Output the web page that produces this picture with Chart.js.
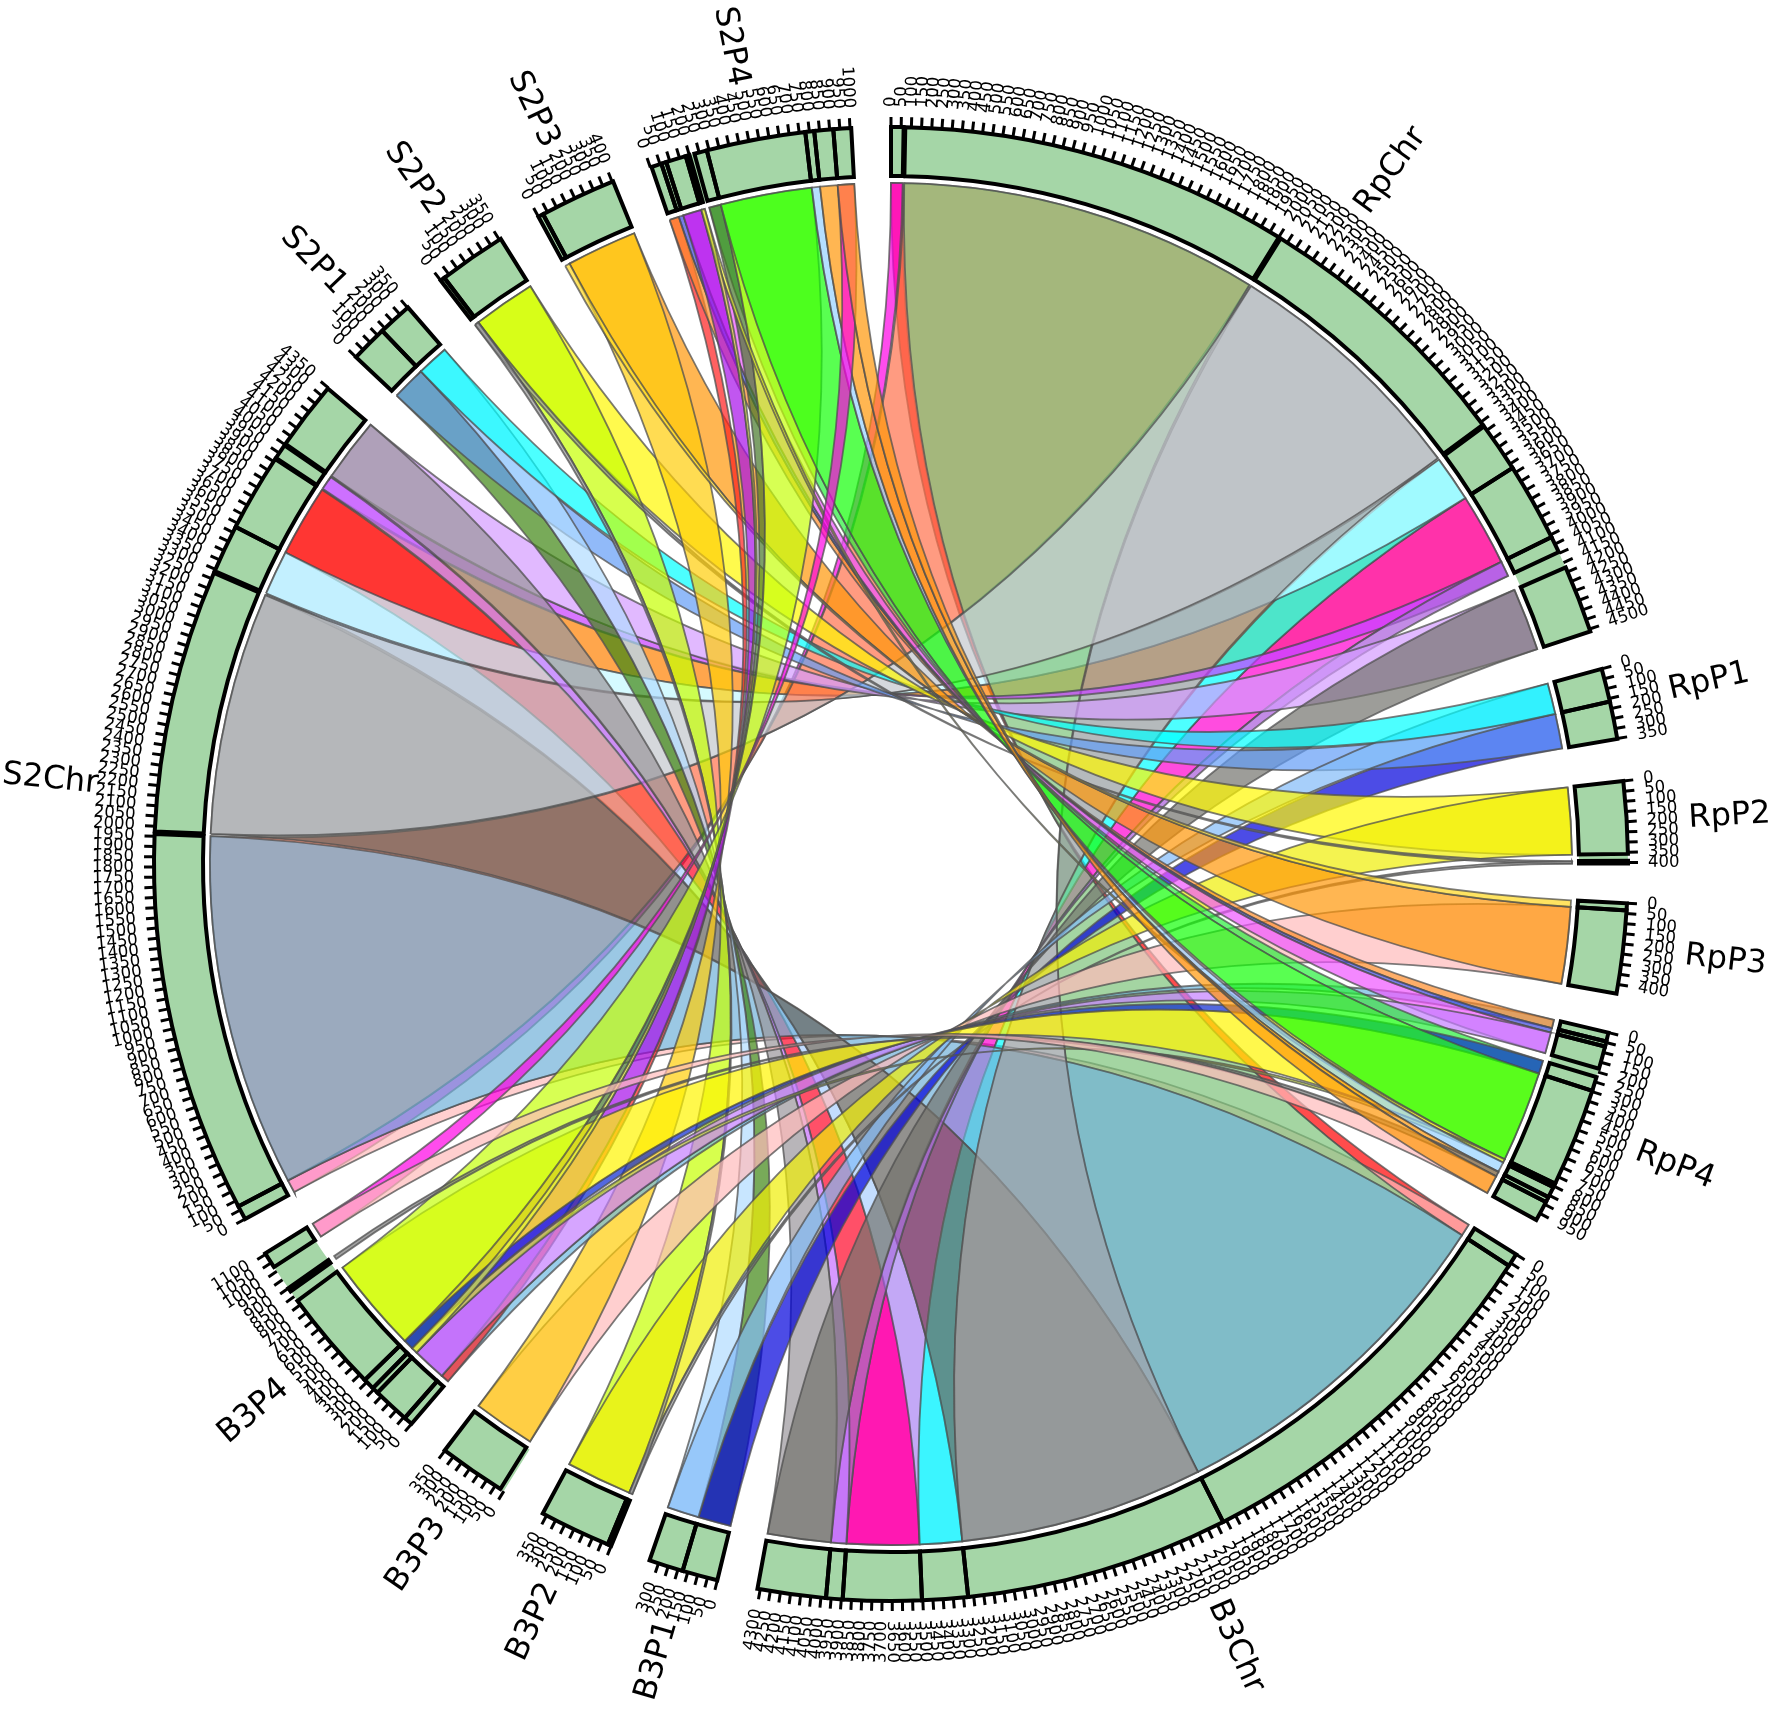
<!DOCTYPE html>
<html>
<head>
<meta charset="utf-8">
<title>Chord diagram</title>
<script src="https://cdn.jsdelivr.net/npm/chart.js@4"></script>
<style>
    html, body { margin: 0; padding: 0; background: #fff; }
    canvas { display: block; }
</style>
</head>
<body>
<canvas id="chord" width="1772" height="1713"></canvas>
<script>
// -----------------------------
// Data
// -----------------------------
const sectorNames = ['RpChr', 'RpP1', 'RpP2', 'RpP3', 'RpP4', 'B3Chr', 'B3P1', 'B3P2', 'B3P3', 'B3P4', 'S2Chr', 'S2P1', 'S2P2', 'S2P3', 'S2P4'];
const sectorLengths = [4512, 352, 405, 446, 987, 4314, 346, 371, 352, 1105, 4352, 352, 358, 405, 1006];
const sectorGaps = [192, 208, 195, 195, 195, 201, 201, 220, 208, 195, 201, 208, 214, 195, 195];
const lastTick = [4500, 350, 400, 400, 950, 4300, 300, 350, 350, 1100, 4350, 350, 350, 400, 1000];
const tickStep = 50;

// every link: sector, from, to, sector, from, to
const linkEnds = [
    // chromosomes
    ['RpChr', 0, 62, 'B3Chr', 0, 66],
    ['S2Chr', 0, 70, 'RpChr', 0, 62],
    ['S2Chr', 0, 70, 'B3Chr', 0, 66],
    ['S2Chr', 3530, 3915, 'RpChr', 3623, 4012],
    ['S2Chr', 3530, 3915, 'B3Chr', 3504, 3893],
    ['RpChr', 3623, 4012, 'B3Chr', 3504, 3893],
    ['S2Chr', 3290, 3530, 'B3Chr', 3277, 3504],
    ['RpChr', 3376, 3623, 'B3Chr', 3277, 3504],
    ['S2Chr', 3290, 3530, 'RpChr', 3376, 3623],
    ['S2Chr', 70, 1962, 'RpChr', 70, 2001],
    ['RpChr', 70, 2001, 'B3Chr', 66, 1968],
    ['S2Chr', 70, 1962, 'B3Chr', 66, 1968],
    ['S2Chr', 1974, 3280, 'B3Chr', 1968, 3277],
    ['RpChr', 2011, 3366, 'B3Chr', 1968, 3277],
    ['S2Chr', 1974, 3280, 'RpChr', 2011, 3366],
    ['S2Chr', 3921, 3996, 'RpChr', 4012, 4094],
    ['RpChr', 4012, 4094, 'B3Chr', 3893, 3975],
    ['S2Chr', 3921, 3996, 'B3Chr', 3893, 3975],
    ['S2Chr', 4004, 4346, 'RpChr', 4176, 4512],
    ['S2Chr', 4004, 4346, 'B3Chr', 3975, 4314],
    ['RpChr', 4176, 4512, 'B3Chr', 3975, 4314],
    // P1
    ['S2P1', 0, 182, 'B3P1', 0, 176],
    ['RpP1', 165, 352, 'B3P1', 0, 176],
    ['S2P1', 0, 182, 'RpP1', 165, 352],
    ['S2P1', 182, 352, 'B3P1', 176, 346],
    ['RpP1', 0, 165, 'B3P1', 176, 346],
    ['S2P1', 182, 352, 'RpP1', 0, 165],
    // P2
    ['S2P2', 22, 358, 'RpP2', 0, 358],
    ['S2P2', 22, 358, 'B3P2', 18, 371],
    ['RpP2', 0, 358, 'B3P2', 18, 371],
    ['S2P2', 0, 22, 'RpP2', 392, 405],
    ['RpP2', 392, 405, 'B3P2', 0, 18],
    ['S2P2', 0, 22, 'B3P2', 0, 18],
    // P3
    ['RpP3', 35, 446, 'B3P3', 20, 352],
    ['S2P3', 26, 405, 'RpP3', 35, 446],
    ['S2P3', 26, 405, 'B3P3', 20, 352],
    ['S2P3', 0, 26, 'RpP3', 0, 35],
    // P4
    ['RpP4', 0, 45, 'B3P4', 0, 44],
    ['S2P4', 6, 57, 'B3P4', 0, 44],
    ['S2P4', 6, 57, 'RpP4', 0, 45],
    ['S2P4', 57, 82, 'RpP4', 45, 70],
    ['S2P4', 82, 182, 'RpP4', 70, 183],
    ['S2P4', 82, 182, 'B3P4', 44, 226],
    ['RpP4', 70, 183, 'B3P4', 44, 226],
    ['S2P4', 226, 289, 'RpP4', 226, 296],
    ['S2P4', 226, 289, 'B3P4', 258, 314],
    ['RpP4', 226, 296, 'B3P4', 258, 314],
    ['RpP4', 296, 786, 'B3P4', 314, 824],
    ['S2P4', 289, 780, 'B3P4', 314, 824],
    ['S2P4', 289, 780, 'RpP4', 296, 786],
    ['S2P4', 182, 201, 'RpP4', 786, 805],
    ['RpP4', 786, 805, 'B3P4', 226, 258],
    ['S2P4', 182, 201, 'B3P4', 226, 258],
    ['S2P4', 780, 824, 'RpP4', 805, 860],
    ['S2P4', 824, 918, 'RpP4', 860, 887],
    ['RpP4', 860, 887, 'B3P4', 881, 900],
    ['S2P4', 918, 1006, 'B3P4', 1025, 1105],
    ['RpP4', 887, 987, 'B3P4', 1025, 1105],
    ['S2P4', 918, 1006, 'RpP4', 887, 987]
];

// -----------------------------
// Styles
// -----------------------------
const linkColors = [
    '255,0,0', '255,0,230', '255,186,186',
    '255,128,0', '255,5,40', '255,0,210',
    '169,206,255', '2,255,255', '195,248,255',
    '255,112,76', '126,195,123', '112,176,216',
    '100,98,94', '150,157,159', '195,200,205',
    '200,60,255', '170,90,220', '200,110,255',
    '212,155,255', '154,149,155', '115,115,110',
    '62,134,19', '0,0,220', '99,156,247',
    '176,219,255', '129,187,248', '0,255,255',
    '255,248,2', '198,255,2', '240,238,5',
    '150,150,150', '150,150,150', '150,150,150',
    '255,186,186', '255,151,8', '255,205,8',
    '255,215,30',
    '110,185,225', '255,30,30', '255,140,40',
    '60,70,220',
    '239,85,255', '166,14,234', '196,127,255',
    '40,240,60', '70,120,40', '10,40,210',
    '255,245,0', '198,255,10', '18,255,7',
    '235,240,40', '200,225,50', '220,230,50',
    '150,210,255', '255,151,8', '120,120,120',
    '255,0,230', '255,186,186', '255,151,8'
];
const linkAlpha = 0.7;
const ringColor = '#a5d6a7';
const nameRadius = [855, 838, 840, 840, 840, 855, 830, 838, 838, 840, 845, 835, 835, 835, 833];

const sectorIndex = name => sectorNames.indexOf(name);

// -----------------------------
// Chord plugin: links, block outlines, ticks and labels
// -----------------------------
const chordPlugin = {
    id: 'chord',
    afterDatasetsDraw(chart) {
        const ctx = chart.ctx;
        const arcs = chart.getDatasetMeta(0).data;
        const cx = arcs[0].x, cy = arcs[0].y;
        const outerR = arcs[0].outerRadius, innerR = arcs[0].innerRadius;
        const linkR = innerR - 7;

        function angleAt(sector, value) {
            const arc = arcs[sector * 2];
            return arc.startAngle + (arc.endAngle - arc.startAngle) * value / sectorLengths[sector];
        }

        // links
        linkEnds.forEach((link, i) => {
            const s1 = sectorIndex(link[0]), s2 = sectorIndex(link[3]);
            const a0 = angleAt(s1, link[1]), a1 = angleAt(s1, link[2]);
            const b0 = angleAt(s2, link[4]), b1 = angleAt(s2, link[5]);
            ctx.beginPath();
            ctx.arc(cx, cy, linkR, a0, a1);
            ctx.quadraticCurveTo(cx, cy, cx + linkR * Math.cos(b1), cy + linkR * Math.sin(b1));
            ctx.arc(cx, cy, linkR, b1, b0, true);
            ctx.quadraticCurveTo(cx, cy, cx + linkR * Math.cos(a0), cy + linkR * Math.sin(a0));
            ctx.closePath();
            ctx.fillStyle = `rgba(${linkColors[i]},${linkAlpha})`;
            ctx.fill();
            ctx.strokeStyle = 'rgba(80,80,80,0.75)';
            ctx.lineWidth = 1.8;
            ctx.stroke();
        });

        // block outlines
        ctx.strokeStyle = '#000';
        ctx.lineWidth = 4;
        ctx.lineJoin = 'miter';
        const done = new Set();
        function outline(sector, from, to) {
            const key = `${sector}:${from}:${to}`;
            if (done.has(key)) return;
            done.add(key);
            const a0 = angleAt(sector, from), a1 = angleAt(sector, to);
            ctx.beginPath();
            ctx.arc(cx, cy, outerR, a0, a1);
            ctx.arc(cx, cy, innerR, a1, a0, true);
            ctx.closePath();
            ctx.stroke();
        }
        linkEnds.forEach(link => {
            outline(sectorIndex(link[0]), link[1], link[2]);
            outline(sectorIndex(link[3]), link[4], link[5]);
        });

        // ticks and tick labels
        ctx.fillStyle = '#000';
        ctx.textBaseline = 'middle';
        sectorNames.forEach((name, s) => {
            for (let value = 0; value <= lastTick[s]; value += tickStep) {
                const a = angleAt(s, value);
                ctx.beginPath();
                ctx.moveTo(cx + outerR * Math.cos(a), cy + outerR * Math.sin(a));
                ctx.lineTo(cx + (outerR + 10) * Math.cos(a), cy + (outerR + 10) * Math.sin(a));
                ctx.lineWidth = 3;
                ctx.stroke();
                drawRadial(ctx, String(value), a, outerR + 20, '16.5px "DejaVu Sans"', cx, cy);
            }
        });

        // sector names
        sectorNames.forEach((name, s) => {
            const a = angleAt(s, sectorLengths[s] / 2);
            const x = cx + nameRadius[s] * Math.cos(a), y = cy + nameRadius[s] * Math.sin(a);
            ctx.save();
            ctx.translate(x, y);
            ctx.rotate(Math.cos(a) >= 0 ? a : a + Math.PI);
            ctx.font = '32px "DejaVu Sans"';
            ctx.textAlign = 'center';
            ctx.fillText(name, 0, 0);
            ctx.restore();
        });
    }
};

function drawRadial(ctx, text, a, r, font, cx, cy) {
    const right = Math.cos(a) >= 0;
    ctx.save();
    ctx.translate(cx + r * Math.cos(a), cy + r * Math.sin(a));
    ctx.rotate(right ? a : a + Math.PI);
    ctx.font = font;
    ctx.textAlign = right ? 'left' : 'right';
    ctx.fillText(text, 0, 0);
    ctx.restore();
}

// -----------------------------
// Chart
// -----------------------------
const ringValues = [];
const ringColors = [];
const ringLabels = [];
sectorLengths.forEach((length, i) => {
    ringValues.push(length, sectorGaps[i]);
    ringColors.push(ringColor, 'rgba(0,0,0,0)');
    ringLabels.push(sectorNames[i], '');
});

new Chart(document.getElementById('chord').getContext('2d'), {
    type: 'doughnut',
    data: {
        labels: ringLabels,
        datasets: [{ data: ringValues, backgroundColor: ringColors, borderWidth: 0, hoverOffset: 0 }]
    },
    options: {
        responsive: false,
        animation: false,
        devicePixelRatio: 1,
        radius: 737,
        cutout: '93.35%',
        rotation: 0,
        layout: { padding: { left: 10, top: 15 } },
        plugins: { legend: { display: false }, tooltip: { enabled: false } }
    },
    plugins: [chordPlugin]
});
</script>
</body>
</html>
